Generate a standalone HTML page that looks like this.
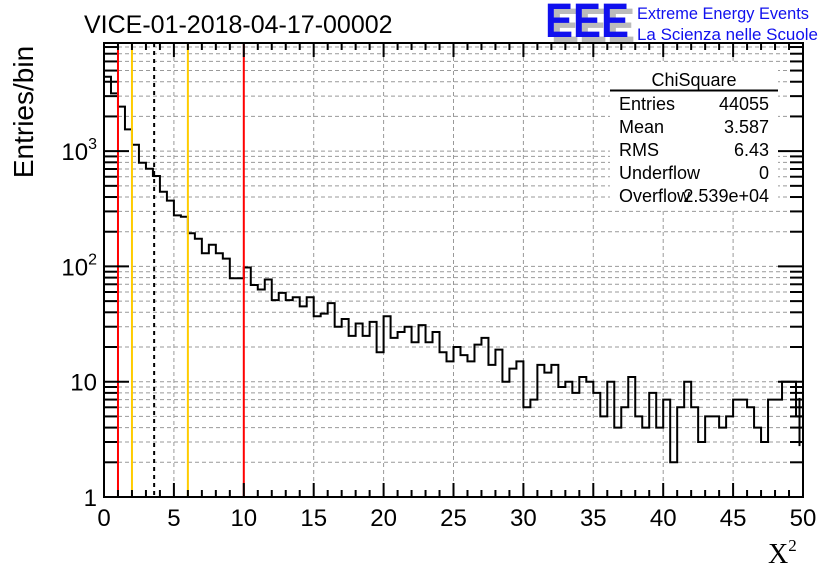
<!DOCTYPE html>
<html><head><meta charset="utf-8"><style>
body{margin:0;background:#fff;}
svg{display:block;font-family:"Liberation Sans",sans-serif;}
</style></head><body>
<svg id="c" width="836" height="572">
<rect width="836" height="572" fill="#fff"/>
<g id="grid"></g>
<g id="hist"></g>
<g id="vlines"></g>
<g id="stats">
<rect x="610" y="64" width="168" height="145" fill="#fff"/>
<text x="694" y="86" font-size="18" text-anchor="middle">ChiSquare</text>
<line x1="610" y1="90.5" x2="778" y2="90.5" stroke="#000" stroke-width="2"/>
<text x="619" y="110" font-size="18">Entries</text><text x="769" y="110" font-size="18" text-anchor="end">44055</text>
<text x="619" y="133" font-size="18">Mean</text><text x="769" y="133" font-size="18" text-anchor="end">3.587</text>
<text x="619" y="156" font-size="18">RMS</text><text x="769" y="156" font-size="18" text-anchor="end">6.43</text>
<text x="619" y="179" font-size="18">Underflow</text><text x="769" y="179" font-size="18" text-anchor="end">0</text>
<text x="619" y="202" font-size="18">Overflow</text><text x="769" y="202" font-size="18" text-anchor="end">2.539e+04</text>
</g>
<g id="axes"></g>
<text x="84" y="33" font-size="25">VICE-01-2018-04-17-00002</text>
<g>
<text x="551" y="42" font-size="48" font-weight="bold" fill="#bbb" textLength="84" lengthAdjust="spacingAndGlyphs">EEE</text>
<text x="545" y="37" font-size="48" font-weight="bold" fill="#1010ee" textLength="84" lengthAdjust="spacingAndGlyphs">EEE</text>
<text x="637" y="19" font-size="16.5" fill="#1010ee" textLength="172" lengthAdjust="spacingAndGlyphs">Extreme Energy Events</text>
<text x="637" y="40" font-size="16.5" fill="#1010ee" textLength="181" lengthAdjust="spacingAndGlyphs">La Scienza nelle Scuole</text>
</g>
<text transform="translate(33,112) rotate(-90)" font-size="28" text-anchor="middle">Entries/bin</text>
<text x="768" y="563" font-size="28" font-family="Liberation Serif,serif">X<tspan font-size="17" dy="-12">2</tspan></text>
</svg>
<script>
const binEdges=[0,50];
const nBins=100;
const counts=[4420,3170,2430,1545,1136,793,703,608,444,372,277,270,194,174,130,154,130,117,79,79,98,69,63,77,51,59,51,54,45,54,37,39,48,30,35,25,32,25,33,18,37,24,27,30,22,31,22,27,18,15,20,17,15,21,24,14,19,10,13,15,6,7,14,12,14,9,10,8,11,10,8,5,10,4,6,11,5,4,8,4,7,2,6,10,6,3,5,5,4,5,7,7,6,4,3,7,7,10,10,5];
const xTicks=[0,5,10,15,20,25,30,35,40,45,50];
const yTicks=[1,10,100,1000];
const yTickBase=["1","10","10","10"];
const yTickExp=["","","2","3"];
const markerLines=[{x:1,c:"#f00",d:""},{x:2,c:"#fc0",d:""},{x:6,c:"#fc0",d:""},{x:10,c:"#f00",d:""},{x:3.587,c:"#000",d:"4,4"}];
const L=104,R=803,T=43,B=497,yMin=1,yMax=8670;
const NS="http://www.w3.org/2000/svg";
function X(v){return L+(v-binEdges[0])/(binEdges[1]-binEdges[0])*(R-L);}
function Y(v){return B-(Math.log10(v)-Math.log10(yMin))/(Math.log10(yMax)-Math.log10(yMin))*(B-T);}
function mk(p,t,a){const e=document.createElementNS(NS,t);for(const k in a)e.setAttribute(k,a[k]);p.appendChild(e);return e;}
const grid=document.getElementById('grid'),hist=document.getElementById('hist'),vl=document.getElementById('vlines'),ax=document.getElementById('axes');
xTicks.forEach(v=>{if(v>binEdges[0]&&v<binEdges[1]){const l=mk(grid,'line',{x1:X(v),x2:X(v),y1:T,y2:B,stroke:'#999','stroke-dasharray':'4,3'});

}});
for(let d=1;d<=1000;d*=10){for(let m=1;m<=9;m++){const v=d*m;if(v<=yMin||v>=yMax)continue;const l=mk(grid,'line',{x1:L,x2:R,y1:Y(v),y2:Y(v),stroke:'#999','stroke-dasharray':'4,3'});

}}
const bw=(binEdges[1]-binEdges[0])/nBins;
let d='M'+X(binEdges[0])+','+B;
counts.forEach((c,i)=>{const y=Y(Math.max(c,yMin));d+=' L'+X(binEdges[0]+i*bw)+','+y+' L'+X(binEdges[0]+(i+1)*bw)+','+y;});
const hp=mk(hist,'path',{d:d,fill:'none',stroke:'#000','stroke-width':2});


const lc=counts[counts.length-1],xc=X(binEdges[1]-bw/2);
const eb=mk(hist,'line',{x1:xc,x2:xc,y1:Y(lc+Math.sqrt(lc)),y2:Y(lc-Math.sqrt(lc)),stroke:'#000','stroke-width':2});


markerLines.forEach(m=>{const l=mk(vl,'line',{x1:X(m.x),x2:X(m.x),y1:T,y2:B,stroke:m.c,'stroke-width':2});if(m.d)l.setAttribute('stroke-dasharray',m.d);

});
const fr=mk(ax,'rect',{x:L,y:T,width:R-L,height:B-T,fill:'none',stroke:'#000','stroke-width':2});


for(let v=binEdges[0];v<=binEdges[1];v+=1){const maj=(v%5===0);const len=maj?14:7;
mk(ax,'line',{x1:X(v),x2:X(v),y1:B,y2:B-len,stroke:'#000','stroke-width':2});
mk(ax,'line',{x1:X(v),x2:X(v),y1:T,y2:T+len,stroke:'#000','stroke-width':2});}
xTicks.forEach(v=>{const t=mk(ax,'text',{x:X(v),y:B+29,'font-size':24,'text-anchor':'middle'});t.textContent=v;

});
for(let dd=1;dd<=1000;dd*=10){for(let m=1;m<=9;m++){const v=dd*m;if(v<yMin||v>yMax)continue;const len=m===1?25:13;
mk(ax,'line',{x1:L,x2:L+len,y1:Y(v),y2:Y(v),stroke:'#000','stroke-width':2});
mk(ax,'line',{x1:R,x2:R-len,y1:Y(v),y2:Y(v),stroke:'#000','stroke-width':2});}}
yTicks.forEach((v,i)=>{const t=mk(ax,'text',{x:L-7,y:Y(v)+9,'font-size':24,'text-anchor':'end'});


const b=document.createElementNS(NS,'tspan');b.textContent=yTickBase[i];t.appendChild(b);
if(yTickExp[i]){const e=document.createElementNS(NS,'tspan');e.setAttribute('font-size','16');e.setAttribute('dy','-11');e.textContent=yTickExp[i];t.appendChild(e);}});
</script>
</body></html>
